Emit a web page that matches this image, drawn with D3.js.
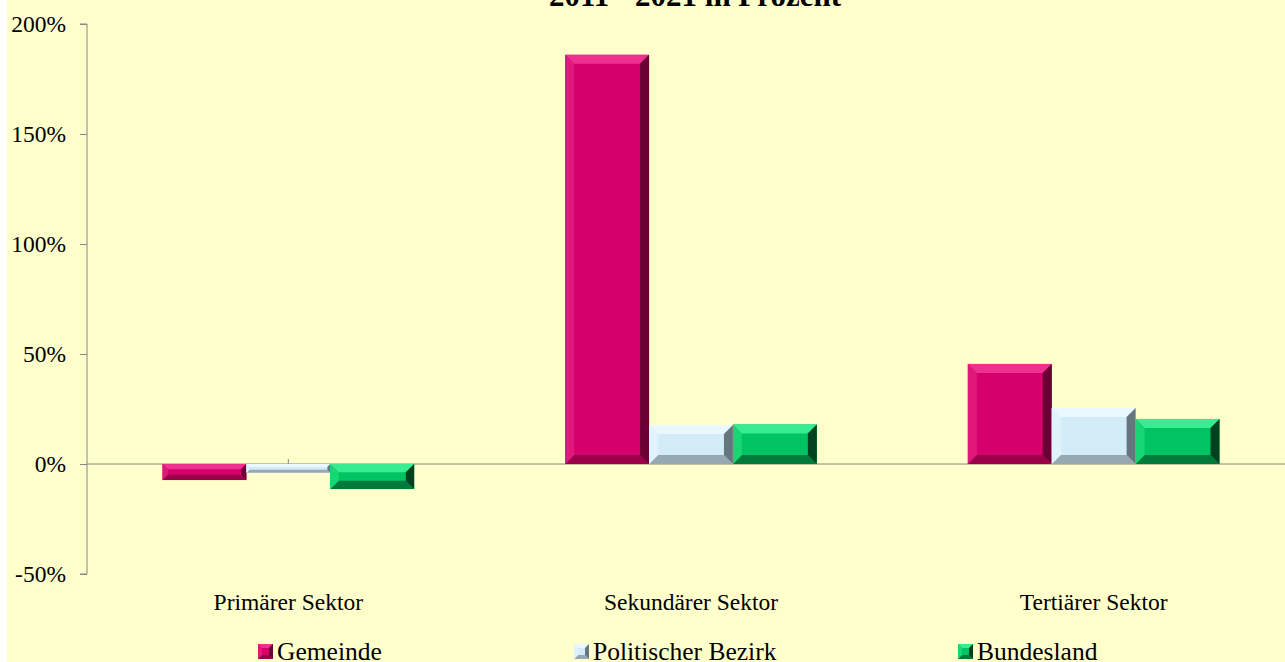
<!DOCTYPE html>
<html>
<head>
<meta charset="utf-8">
<script src="https://cdn.jsdelivr.net/npm/d3@7"></script>
<style>
  body { margin: 0; background: #ffffff; }
  svg { display: block; }
</style>
</head>
<body>
<div id="chart"></div>
<script>
// values (percent change 2011 - 2021)
var categories = ["Primärer Sektor", "Sekundärer Sektor", "Tertiärer Sektor"];
var seriesNames = ["Gemeinde", "Politischer Bezirk", "Bundesland"];
var gemeinde = [-7.3, 186, 45.5];
var bezirk = [-4, 17.7, 25.5];
var bundesland = [-11.4, 18, 20.5];
var yTicks = [-50, 0, 50, 100, 150, 200];

// colours for each series: main face, top, left, right, bottom bevel
var palette = [
  { face: "#d6006c", top: "#ee3090", left: "#e0187a", right: "#6a0033", bottom: "#990049" },
  { face: "#d4ecf7", top: "#eaf8ff", left: "#e0f3fc", right: "#66767f", bottom: "#97a8b2" },
  { face: "#00c463", top: "#38ec94", left: "#18d674", right: "#00421d", bottom: "#007a3a" }
];

var W = 1285, H = 662;
var margin = { top: 24, right: -10, bottom: 88, left: 87 };
var width = W - margin.left - margin.right,
    height = H - margin.top - margin.bottom;

var svg = d3.select("#chart").append("svg")
  .attr("width", W)
  .attr("height", H);

// chart area background
svg.append("rect")
  .attr("x", 7).attr("y", 0)
  .attr("width", W - 7).attr("height", H)
  .attr("fill", "#ffffcc");

var g = svg.append("g")
  .attr("transform", "translate(" + margin.left + "," + margin.top + ")");

var x0 = d3.scaleBand()
  .domain(categories)
  .range([0, width])
  .paddingInner(0)
  .paddingOuter(0);

var x1 = d3.scaleBand()
  .domain(seriesNames)
  .range([0, x0.bandwidth()])
  .paddingInner(0)
  .paddingOuter(0.9);

var y = d3.scaleLinear()
  .domain([-50, 200])
  .range([height, 0]);

var font = "'Liberation Serif', 'Times New Roman', serif";

// y axis
var yAxis = g.append("g")
  .call(d3.axisLeft(y).tickValues(yTicks).tickSize(7).tickPadding(14)
    .tickFormat(function(d) { return d + "%"; }));
yAxis.select(".domain").attr("stroke", "#868686").attr("d", "M-7," + y(200) + "H0V" + y(-50) + "H-7");
yAxis.selectAll(".tick line").attr("stroke", "#868686");
yAxis.selectAll("text")
  .attr("font-family", font)
  .attr("font-size", "23.5px")
  .attr("fill", "#000");

// zero line
g.append("line")
  .attr("x1", 0).attr("x2", W - margin.left)
  .attr("y1", y(0)).attr("y2", y(0))
  .attr("stroke", "#868686");

// small category ticks
g.selectAll(".ctick")
  .data(categories)
  .enter().append("line")
  .attr("x1", function(d) { return x0(d) + x0.bandwidth() / 2; })
  .attr("x2", function(d) { return x0(d) + x0.bandwidth() / 2; })
  .attr("y1", y(0) - 5).attr("y2", y(0))
  .attr("stroke", "#868686");

// bars data
var rows = [];
categories.forEach(function(c, i) {
  [gemeinde, bezirk, bundesland].forEach(function(arr, s) {
    rows.push({ cat: c, series: seriesNames[s], s: s, value: arr[i] });
  });
});

function bevelBar(sel, bx, by, bw, bh, col, b) {
  var xa = bx, xb = bx + bw, ya = by, yb = by + bh;
  sel.append("rect")
    .attr("x", xa).attr("y", ya).attr("width", bw).attr("height", bh)
    .attr("fill", col.face);
  var pts = function(p) { return p.map(function(q) { return q.join(","); }).join(" "); };
  sel.append("polygon").attr("fill", col.top)
    .attr("points", pts([[xa, ya], [xb, ya], [xb - b, ya + b], [xa + b, ya + b]]));
  sel.append("polygon").attr("fill", col.bottom)
    .attr("points", pts([[xa, yb], [xb, yb], [xb - b, yb - b], [xa + b, yb - b]]));
  sel.append("polygon").attr("fill", col.left)
    .attr("points", pts([[xa, ya], [xa + b, ya + b], [xa + b, yb - b], [xa, yb]]));
  sel.append("polygon").attr("fill", col.right)
    .attr("points", pts([[xb, ya], [xb - b, ya + b], [xb - b, yb - b], [xb, yb]]));
}

rows.forEach(function(d) {
  var bx = x0(d.cat) + x1(d.series);
  var bw = x1.bandwidth();
  var top = y(Math.max(0, d.value)), bot = y(Math.min(0, d.value));
  var bh = bot - top;
  var b = Math.min(9, bh / 3);
  bevelBar(g.append("g"), bx, top, bw, bh, palette[d.s], b);
});

// category labels
g.selectAll(".clabel")
  .data(categories)
  .enter().append("text")
  .attr("x", function(d) { return x0(d) + x0.bandwidth() / 2; })
  .attr("y", 586)
  .attr("text-anchor", "middle")
  .attr("font-family", font)
  .attr("font-size", "23.5px")
  .attr("fill", "#000")
  .text(function(d) { return d; });

// title (top line is cut off in the original)
svg.append("text")
  .attr("x", 695)
  .attr("y", 6)
  .attr("text-anchor", "middle")
  .attr("font-family", font)
  .attr("font-weight", "bold")
  .attr("font-size", "31px")
  .attr("fill", "#000")
  .text("2011 - 2021 in Prozent");

// legend
var legendX = [258, 574, 958];
var legend = svg.selectAll(".legend")
  .data(seriesNames)
  .enter().append("g")
  .attr("transform", function(d, i) { return "translate(" + legendX[i] + ",0)"; });

legend.each(function(d, i) {
  bevelBar(d3.select(this), 0, 644, 15, 15, palette[i], 4);
});

legend.append("text")
  .attr("x", 19)
  .attr("y", 660)
  .attr("font-family", font)
  .attr("font-size", "25.5px")
  .attr("fill", "#000")
  .text(function(d) { return d; });
</script>
</body>
</html>
